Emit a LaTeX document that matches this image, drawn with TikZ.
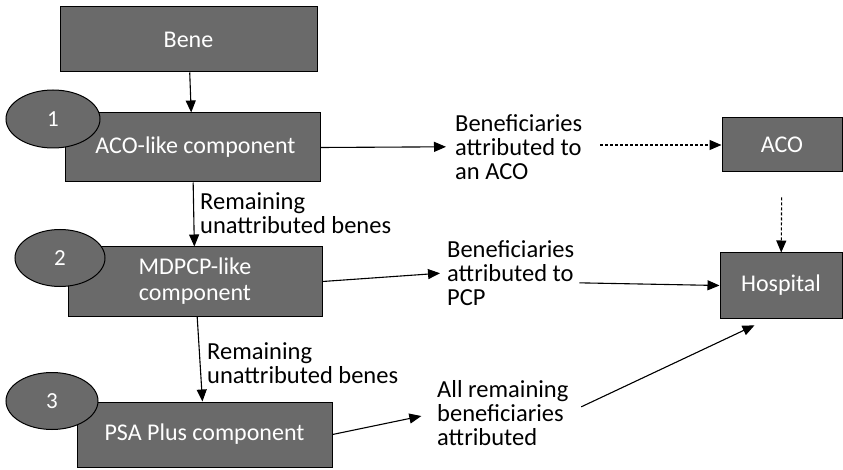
\documentclass[tikz,border=0pt]{standalone}
\usepackage{fontspec}
\setmainfont{Carlito}
\usetikzlibrary{shapes.geometric, arrows.meta, positioning}
\definecolor{boxgray}{RGB}{106,106,106}
\tikzset{
  comp/.style={rectangle, draw=black, line width=1pt, fill=boxgray, text=white, align=center, inner sep=0pt, font=\fontsize{24}{26}\selectfont},
  stepnum/.style={ellipse, draw=black, line width=1pt, fill=boxgray, text=white, inner sep=0pt, font=\fontsize{23}{25}\selectfont},
  lbl/.style={anchor=north west, align=left, inner sep=0pt, font=\fontsize{24.5}{24}\selectfont},
  arrow/.style={-{Triangle[length=12pt, width=10pt]}, line width=1.1pt},
  dots/.style={dash pattern=on 3pt off 2pt}
}
\begin{document}
\begin{tikzpicture}[x=1pt, y=-1pt]
  \useasboundingbox (0,0) rectangle (843,470);
  \node[comp, minimum width=257pt, minimum height=65pt] (bene) at (188.5,39.5) {Bene};
  \node[comp, minimum width=255pt, minimum height=69pt] (acolike) at (192.5,147.5) {\hspace*{6pt}ACO-like component};
  \node[comp, minimum width=254pt, minimum height=69pt] (mdpcp) at (195,281.5) {MDPCP-like\\component};
  \node[comp, minimum width=255pt, minimum height=65pt] (psa) at (204.5,434.5) {PSA Plus component};
  \node[comp, minimum width=120pt, minimum height=54pt] (aco) at (782,145) {ACO};
  \node[comp, minimum width=122pt, minimum height=65pt] (hosp) at (781,285.5) {Hospital};
  \node[stepnum, minimum width=94pt, minimum height=58pt] (n1) at (53,119) {1};
  \node[stepnum, minimum width=90pt, minimum height=57pt] (n2) at (60,258) {2};
  \node[stepnum, minimum width=92pt, minimum height=57pt] (n3) at (52,401) {3};
  \node[lbl] (rem1) at (200,192) {Remaining\\unattributed benes};
  \node[lbl] (rem2) at (207,342) {Remaining\\unattributed benes};
  \node[lbl] (toaco) at (455,114) {Beneficiaries\\attributed to\\an ACO};
  \node[lbl] (topcp) at (447,240) {Beneficiaries\\attributed to\\PCP};
  \node[lbl] (toall) at (437,380) {All remaining\\beneficiaries\\attributed};
  \draw[arrow] (bene) -- (acolike);
  \draw[arrow] (acolike) -- (mdpcp);
  \draw[arrow] (mdpcp) -- (psa);
  \draw[arrow, shorten >=9pt] (acolike.east) -- (toaco.west);
  \draw[arrow, dots, shorten <=18pt] (toaco.east |- aco.west) -- (aco.west);
  \draw[arrow, dots, shorten <=25pt] (aco) -- (hosp);
  \draw[arrow, shorten >=7pt] (mdpcp.east) -- (topcp.west);
  \draw[arrow, shorten <=5pt] ([yshift=-10pt]topcp.east) -- (hosp.west);
  \draw[arrow, shorten >=16pt] (psa.east) -- (toall.west);
  \draw[arrow, shorten <=14pt, shorten >=16pt] (toall.east) -- ([xshift=-12pt]hosp.south);
\end{tikzpicture}
\end{document}
